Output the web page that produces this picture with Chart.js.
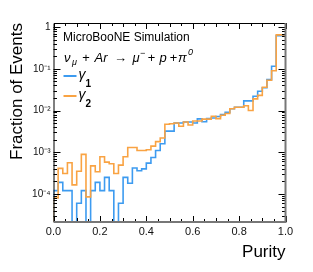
<!DOCTYPE html>
<html>
<head>
<meta charset="utf-8">
<script src="https://cdn.jsdelivr.net/npm/chart.js@4.4.1/dist/chart.umd.min.js"></script>
<style>
  html, body { margin: 0; padding: 0; background: #fff; }
</style>
</head>
<body>
<canvas id="myChart" width="313" height="272"></canvas>
<script>
// 50 bins of purity, width 0.02, low edges
const binLow = Array.from({ length: 50 }, (_, i) => i * 0.02);

// fraction of events per bin (0 = empty bin)
const gamma1 = [
    0, 1.2e-4, 1.9e-4, 1.2e-4, 1.2e-4, 0, 6e-5, 1.2e-4, 0, 1.2e-4,
    1.9e-4, 1.2e-4, 2.5e-4, 1.2e-4, 0, 6e-5, 2.5e-4, 1.8e-4, 4.2e-4, 3.6e-4,
    4.0e-4, 5.5e-4, 7.5e-4, 1.1e-3, 1.6e-3, 3.2e-3, 3.2e-3, 5.0e-3, 5.0e-3, 5.3e-3,
    5.3e-3, 5.0e-3, 6.3e-3, 5.4e-3, 6.4e-3, 6.6e-3, 7.2e-3, 8.0e-3, 9.0e-3, 1.1e-2,
    1.2e-2, 1.2e-2, 1.7e-2, 1.7e-2, 2.2e-2, 2.9e-2, 3.5e-2, 5.5e-2, 0.115, 0.62
];
const gamma2 = [
    0, 8e-5, 4.1e-4, 3.1e-4, 5.6e-4, 1.65e-4, 3.5e-4, 8.9e-4, 8.5e-5, 4.7e-4,
    3.4e-4, 7.8e-4, 5.8e-4, 5.3e-4, 3.1e-4, 4.9e-4, 7.8e-4, 1.3e-3, 1.3e-3, 1.1e-3,
    1.1e-3, 1.15e-3, 1.4e-3, 1.8e-3, 2.2e-3, 4.7e-3, 4.8e-3, 5.0e-3, 4.2e-3, 5.3e-3,
    4.5e-3, 5.6e-3, 5.6e-3, 6.2e-3, 6.2e-3, 7.3e-3, 6.4e-3, 7.7e-3, 8.5e-3, 1.1e-2,
    1.2e-2, 1.2e-2, 1.3e-2, 1.0e-2, 1.9e-2, 2.3e-2, 3.6e-2, 5.3e-2, 9.0e-2, 0.65
];

const xTickValues = [0, 0.2, 0.4, 0.6, 0.8, 1.0];
const xTickLabels = ['0.0', '0.2', '0.4', '0.6', '0.8', '1.0'];
const yTickValues = [1e-4, 1e-3, 1e-2, 1e-1, 1];
const yTickLabels = ['10\u207B\u2074', '10\u207B\u00B3', '10\u207B\u00B2', '10\u207B\u00B9', '1'];

const yMin = 2.13e-5;
const yMax = 1.25;
const FONT = '"Liberation Sans", Arial, Helvetica, sans-serif';
const BLUE = '#3d9bf0';
const ORANGE = '#f9a343';

// step histogram points; empty bins drop below the axis
function histPoints(values) {
    const pts = values.map((v, i) => ({ x: binLow[i], y: v > 0 ? v : yMin / 100 }));
    pts.push({ x: 1, y: pts[pts.length - 1].y });
    return pts;
}

// frame, inner tick marks, and the text inside the plot
const rootStyle = {
    id: 'rootStyle',
    afterDraw(chart) {
        const ctx = chart.ctx;
        const a = chart.chartArea;
        const xs = chart.scales.x;
        const ys = chart.scales.y;
        ctx.save();

        ctx.strokeStyle = '#000';
        ctx.lineWidth = 1;
        ctx.beginPath();
        // x ticks every 0.05, top and bottom
        for (let k = 0; k <= 20; k++) {
            const px = Math.round(xs.getPixelForValue(k * 0.05)) + 0.5;
            const len = k % 4 === 0 ? 6 : (k % 2 === 0 ? 4 : 3);
            ctx.moveTo(px, a.bottom); ctx.lineTo(px, a.bottom - len);
            ctx.moveTo(px, a.top); ctx.lineTo(px, a.top + len);
        }
        // y ticks, decades and 2..9
        for (let e = -5; e <= 0; e++) {
            for (let m = 1; m <= 9; m++) {
                const v = m * Math.pow(10, e);
                if (v < yMin || v > yMax) continue;
                const py = Math.round(ys.getPixelForValue(v)) + 0.5;
                const len = m === 1 ? 7 : 3.5;
                ctx.moveTo(a.left, py); ctx.lineTo(a.left + len, py);
                ctx.moveTo(a.right, py); ctx.lineTo(a.right - len, py);
            }
        }
        ctx.stroke();

        // frame
        ctx.beginPath();
        ctx.moveTo(a.left + 0.5, a.bottom);
        ctx.lineTo(a.left + 0.5, a.top + 0.5);
        ctx.lineTo(a.right, a.top + 0.5);
        ctx.stroke();
        ctx.strokeStyle = '#777';
        ctx.lineWidth = 2;
        ctx.beginPath();
        ctx.moveTo(a.left, a.bottom);
        ctx.lineTo(a.right, a.bottom);
        ctx.lineTo(a.right, a.top);
        ctx.stroke();

        // labels
        ctx.fillStyle = '#000';
        ctx.textBaseline = 'alphabetic';
        ctx.textAlign = 'left';
        ctx.font = '12px ' + FONT;
        ctx.fillText('MicroBooNE Simulation', a.left + 9.5, a.top + 18);

        // reaction line: [text, font, x offset from left, baseline shift]
        const big = 'italic 13px ' + FONT;
        const small = 'italic 9px ' + FONT;
        const base = a.top + 39;
        const parts = [
            ['\u03BD', big, 10.5, 0],
            ['\u03BC', small, 18.5, 3],
            ['+', big, 28.5, 0],
            ['Ar', big, 41, 0],
            ['\u2192', '13px ' + FONT, 60.5, 0],
            ['\u03BC', big, 79, 0],
            ['\u2212', small, 86.5, -6],
            ['+', big, 94, 0],
            ['p', big, 106, 0],
            ['+', big, 116, 0],
            ['\u03C0', big, 124.5, 0],
            ['0', small, 134.5, -7]
        ];
        parts.forEach(p => {
            ctx.font = p[1];
            ctx.fillText(p[0], a.left + p[2], base + p[3]);
        });

        // legend
        const entries = [[BLUE, '1'], [ORANGE, '2']];
        entries.forEach((en, i) => {
            const ly = a.top + 53 + i * 20;
            ctx.strokeStyle = en[0];
            ctx.lineWidth = 2;
            ctx.beginPath();
            ctx.moveTo(a.left + 10, ly);
            ctx.lineTo(a.left + 23, ly);
            ctx.stroke();
            ctx.font = 'italic 14px ' + FONT;
            ctx.fillText('\u03B3', a.left + 25, ly + 3);
            const w = ctx.measureText('\u03B3').width;
            ctx.font = 'bold 10px ' + FONT;
            ctx.fillText(en[1], a.left + 25 + w, ly + 11);
        });

        ctx.restore();
    }
};

const ctx = document.getElementById('myChart').getContext('2d');
const myChart = new Chart(ctx, {
    type: 'line',
    data: {
        datasets: [{
            label: '\u03B3\u2081',
            data: histPoints(gamma1),
            borderColor: BLUE,
            borderWidth: 1.6,
            stepped: 'after',
            pointRadius: 0,
            fill: false,
            order: 2
        }, {
            label: '\u03B3\u2082',
            data: histPoints(gamma2),
            borderColor: ORANGE,
            borderWidth: 1.6,
            stepped: 'after',
            pointRadius: 0,
            fill: false,
            order: 1
        }]
    },
    options: {
        responsive: false,
        animation: false,
        layout: { padding: { top: 23, right: 27.5, left: 0, bottom: 0 } },
        plugins: {
            legend: { display: false },
            tooltip: { enabled: false }
        },
        scales: {
            x: {
                type: 'linear',
                min: 0,
                max: 1,
                afterBuildTicks: s => { s.ticks = xTickValues.map(v => ({ value: v })); },
                afterFit: s => { s.height = 50; },
                grid: { display: false, drawTicks: false },
                border: { display: false },
                ticks: {
                    autoSkip: false,
                    maxRotation: 0,
                    padding: 3,
                    color: '#111',
                    font: { family: FONT, size: 11 },
                    callback: (v, i) => xTickLabels[i]
                },
                title: {
                    display: true,
                    text: 'Purity',
                    align: 'end',
                    color: '#000',
                    font: { family: FONT, size: 17 },
                    padding: { top: 0, bottom: 9 }
                }
            },
            y: {
                type: 'logarithmic',
                min: yMin,
                max: yMax,
                afterBuildTicks: s => { s.ticks = yTickValues.map(v => ({ value: v })); },
                afterFit: s => { s.width = 53.5; },
                grid: { display: false, drawTicks: false },
                border: { display: false },
                ticks: {
                    autoSkip: false,
                    padding: 3,
                    color: '#111',
                    font: { family: FONT, size: 10 },
                    callback: (v, i) => yTickLabels[i]
                },
                title: {
                    display: true,
                    text: 'Fraction of Events',
                    align: 'end',
                    color: '#000',
                    font: { family: FONT, size: 17 },
                    padding: { top: 7, bottom: 0 }
                }
            }
        }
    },
    plugins: [rootStyle]
});
</script>
</body>
</html>
